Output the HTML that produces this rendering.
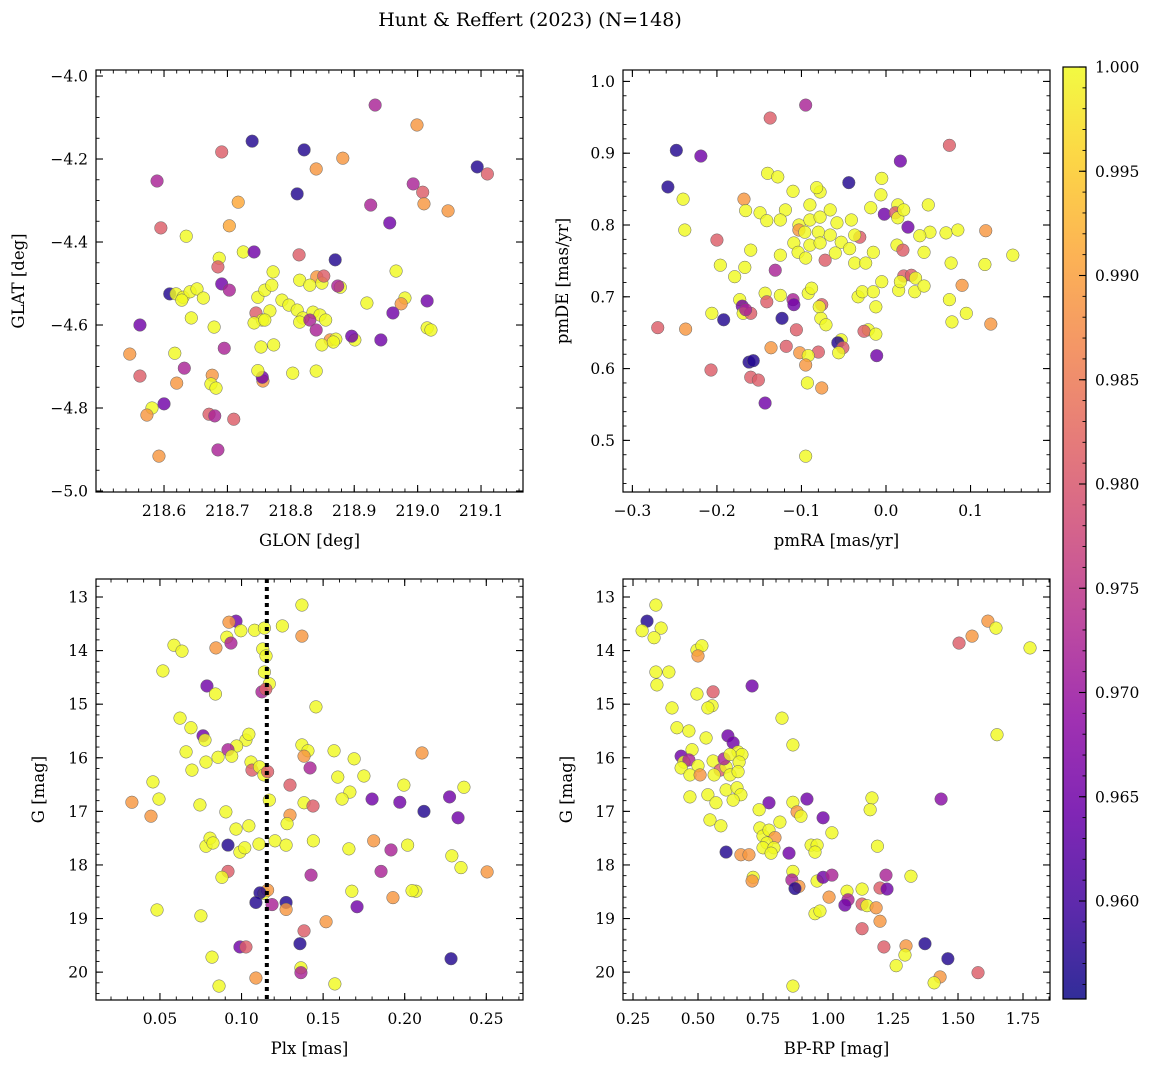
<!DOCTYPE html>
<html><head><meta charset="utf-8">
<style>
html,body{margin:0;padding:0;background:#fff;}
svg{display:block;font-family:"DejaVu Serif","Liberation Serif",serif;}
</style></head>
<body>
<svg id="fig" width="1161" height="1067" viewBox="0 0 1161 1067" xmlns="http://www.w3.org/2000/svg">
<text x="530" y="26" font-size="19" text-anchor="middle">Hunt &amp; Reffert (2023) (N=148)</text>
</svg>
<script>
// Values: [x, y, color-value]
const skyPoints = [
[218.933,-4.070,0.972],[218.999,-4.118,0.989],[218.739,-4.157,0.957],[218.821,-4.178,0.957],[218.691,-4.183,0.981],
[218.882,-4.198,0.989],[219.094,-4.219,0.957],[218.840,-4.224,0.989],[219.110,-4.236,0.981],[218.589,-4.253,0.972],
[218.993,-4.260,0.972],[219.008,-4.280,0.981],[218.810,-4.284,0.957],[218.717,-4.304,0.991],[219.010,-4.308,0.989],
[218.926,-4.311,0.972],[219.048,-4.325,0.989],[218.956,-4.354,0.965],[218.595,-4.366,0.981],[218.703,-4.361,0.991],
[218.635,-4.386,1.0],[218.725,-4.424,1.0],[218.742,-4.424,0.965],[218.813,-4.431,0.981],[218.687,-4.439,1.0],
[218.870,-4.443,0.957],[218.685,-4.460,0.981],[218.772,-4.472,1.0],[218.966,-4.470,1.0],[218.841,-4.484,0.989],
[218.609,-4.525,0.957],[218.619,-4.525,1.0],[218.630,-4.533,1.0],[218.641,-4.520,1.0],[218.652,-4.513,1.0],
[218.662,-4.535,1.0],[218.628,-4.540,1.0],[218.691,-4.501,0.965],[218.703,-4.516,0.972],[218.814,-4.492,1.0],
[218.830,-4.504,1.0],[218.849,-4.499,1.0],[218.852,-4.482,0.981],[218.878,-4.509,1.0],[218.874,-4.506,0.972],
[218.748,-4.533,1.0],[218.759,-4.516,1.0],[218.770,-4.504,1.0],[218.786,-4.540,1.0],[218.767,-4.566,1.0],
[218.745,-4.571,0.981],[218.755,-4.588,1.0],[218.742,-4.595,1.0],[218.759,-4.588,1.0],[218.797,-4.552,1.0],
[218.810,-4.564,1.0],[218.819,-4.583,1.0],[218.835,-4.569,1.0],[218.846,-4.576,1.0],[218.814,-4.593,1.0],
[218.830,-4.588,0.972],[218.855,-4.588,1.0],[218.840,-4.612,0.972],[218.862,-4.636,0.989],[218.871,-4.634,1.0],
[218.849,-4.648,1.0],[218.867,-4.641,1.0],[218.901,-4.636,1.0],[218.896,-4.627,0.965],[218.920,-4.547,1.0],
[218.980,-4.535,1.0],[218.974,-4.549,0.989],[218.961,-4.571,0.965],[219.015,-4.607,1.0],[219.021,-4.612,1.0],
[219.015,-4.542,0.965],[218.942,-4.636,0.965],[218.643,-4.583,1.0],[218.679,-4.605,1.0],[218.753,-4.653,1.0],
[218.773,-4.648,1.0],[218.803,-4.716,1.0],[218.840,-4.711,1.0],[218.695,-4.656,0.972],[218.562,-4.600,0.965],
[218.546,-4.670,0.989],[218.562,-4.723,0.981],[218.617,-4.668,1.0],[218.632,-4.704,0.972],[218.620,-4.740,0.989],
[218.676,-4.721,0.989],[218.674,-4.742,1.0],[218.682,-4.752,1.0],[218.756,-4.735,0.989],[218.755,-4.726,0.965],
[218.748,-4.710,1.0],[218.581,-4.800,1.0],[218.573,-4.817,0.989],[218.600,-4.790,0.965],[218.671,-4.815,0.981],
[218.680,-4.819,0.972],[218.710,-4.827,0.981],[218.685,-4.901,0.972],[218.592,-4.916,0.989]
];
const pmPoints = [
[-0.095,0.967,0.972],[-0.137,0.949,0.981],[-0.248,0.904,0.957],[-0.219,0.896,0.965],[0.075,0.911,0.981],
[-0.258,0.853,0.957],[0.017,0.889,0.965],[-0.140,0.872,1.0],[-0.128,0.867,1.0],[-0.005,0.865,1.0],
[-0.044,0.859,0.957],[-0.240,0.836,1.0],[-0.110,0.847,1.0],[-0.078,0.846,1.0],[-0.082,0.852,1.0],
[-0.006,0.842,1.0],[-0.018,0.824,1.0],[-0.168,0.836,0.989],[-0.166,0.820,1.0],[-0.149,0.817,1.0],
[-0.119,0.821,1.0],[-0.090,0.828,1.0],[-0.066,0.821,1.0],[0.014,0.828,1.0],[0.050,0.828,1.0],
[-0.002,0.815,0.965],[0.011,0.817,0.981],[0.014,0.810,1.0],[0.021,0.821,1.0],[-0.238,0.793,1.0],
[-0.141,0.806,1.0],[-0.125,0.807,1.0],[-0.103,0.800,1.0],[-0.090,0.807,1.0],[-0.078,0.811,1.0],
[-0.058,0.803,1.0],[-0.041,0.807,1.0],[0.026,0.797,0.965],[0.071,0.789,1.0],[0.052,0.790,1.0],
[-0.200,0.779,0.981],[-0.103,0.793,0.989],[-0.096,0.790,1.0],[-0.080,0.790,1.0],[-0.066,0.786,1.0],
[-0.109,0.775,1.0],[-0.090,0.772,1.0],[-0.078,0.775,1.0],[-0.031,0.783,0.981],[-0.037,0.786,1.0],
[-0.053,0.776,1.0],[-0.043,0.767,1.0],[-0.015,0.762,1.0],[0.013,0.772,1.0],[0.040,0.785,1.0],
[0.085,0.793,1.0],[0.118,0.792,0.989],[-0.160,0.765,1.0],[-0.125,0.758,1.0],[-0.104,0.762,1.0],
[-0.095,0.754,1.0],[-0.072,0.751,0.981],[-0.060,0.761,1.0],[-0.037,0.747,1.0],[-0.024,0.747,1.0],
[0.020,0.765,0.981],[0.045,0.762,1.0],[-0.131,0.737,0.972],[-0.167,0.741,1.0],[-0.196,0.744,1.0],
[-0.179,0.728,1.0],[0.077,0.747,1.0],[0.117,0.745,1.0],[0.150,0.758,1.0],[0.015,0.709,1.0],
[0.021,0.729,0.981],[0.030,0.730,0.981],[0.035,0.726,1.0],[0.017,0.721,1.0],[-0.005,0.721,1.0],
[0.034,0.707,1.0],[-0.143,0.705,1.0],[-0.125,0.702,1.0],[-0.141,0.693,0.981],[-0.173,0.696,1.0],
[-0.170,0.687,0.965],[-0.092,0.705,1.0],[-0.088,0.712,1.0],[-0.076,0.689,0.981],[-0.033,0.700,1.0],
[-0.028,0.707,1.0],[-0.015,0.707,1.0],[0.045,0.715,1.0],[0.090,0.716,0.989],[0.075,0.696,1.0],
[0.095,0.677,1.0],[0.078,0.665,1.0],[0.124,0.662,0.989],[-0.206,0.677,1.0],[-0.169,0.677,1.0],
[-0.110,0.696,0.972],[-0.109,0.689,0.965],[-0.079,0.686,1.0],[-0.012,0.686,1.0],[-0.160,0.677,0.981],
[-0.192,0.668,0.957],[-0.166,0.682,0.972],[-0.123,0.670,0.957],[-0.077,0.670,1.0],[-0.071,0.661,1.0],
[-0.053,0.640,1.0],[-0.021,0.654,1.0],[-0.026,0.652,0.981],[-0.012,0.648,1.0],[-0.118,0.631,0.981],
[-0.102,0.622,0.989],[-0.106,0.654,0.981],[-0.057,0.636,0.957],[-0.051,0.629,0.981],[-0.080,0.623,0.981],
[-0.136,0.629,0.989],[-0.092,0.618,1.0],[-0.056,0.622,1.0],[-0.011,0.618,0.965],[-0.207,0.598,0.981],
[-0.162,0.609,0.957],[-0.157,0.611,0.957],[-0.160,0.588,0.981],[-0.151,0.584,0.981],[-0.095,0.605,0.989],
[-0.093,0.580,1.0],[-0.076,0.573,0.989],[-0.143,0.552,0.965],[-0.237,0.655,0.989],[-0.270,0.657,0.981],
[-0.095,0.478,1.0]
];
const plxPoints = [
[0.0966,13.45,0.965],[0.0923,13.47,0.989],[0.137,13.15,1.0],[0.0996,13.63,1.0],[0.108,13.62,1.0],
[0.125,13.54,1.0],[0.114,13.58,1.0],[0.091,13.75,1.0],[0.0935,13.86,0.972],[0.137,13.73,0.989],
[0.0586,13.90,1.0],[0.0635,14.01,1.0],[0.0843,13.95,0.989],[0.113,13.97,1.0],[0.115,14.10,1.0],
[0.114,14.40,1.0],[0.117,14.62,1.0],[0.0518,14.38,1.0],[0.0788,14.66,0.965],[0.084,14.81,1.0],
[0.1125,14.77,0.972],[0.1149,14.72,0.981],[0.0623,15.26,1.0],[0.069,15.44,1.0],[0.0764,15.59,0.965],
[0.0776,15.67,1.0],[0.1456,15.05,1.0],[0.1027,15.67,1.0],[0.1045,15.56,1.0],[0.097,15.78,1.0],
[0.0917,15.85,0.972],[0.094,15.97,1.0],[0.137,15.76,1.0],[0.1407,15.87,1.0],[0.1383,15.97,0.989],
[0.1567,15.87,1.0],[0.169,16.02,1.0],[0.2106,15.91,0.989],[0.066,15.89,1.0],[0.0696,16.23,1.0],
[0.0782,16.08,1.0],[0.0856,15.99,1.0],[0.1058,16.08,1.0],[0.1064,16.23,0.981],[0.111,16.17,1.0],
[0.1137,16.32,1.0],[0.116,16.26,0.981],[0.0457,16.45,1.0],[0.1297,16.51,0.981],[0.142,16.19,0.972],
[0.159,16.36,1.0],[0.175,16.34,1.0],[0.1995,16.51,1.0],[0.2363,16.55,1.0],[0.1664,16.64,1.0],
[0.1616,16.77,1.0],[0.0328,16.83,0.989],[0.0494,16.77,1.0],[0.0745,16.88,1.0],[0.1383,16.84,1.0],
[0.1438,16.90,0.981],[0.117,16.79,1.0],[0.18,16.77,0.965],[0.197,16.83,0.965],[0.2275,16.73,0.965],
[0.0445,17.09,0.989],[0.0904,17.01,1.0],[0.2118,17.00,0.957],[0.2327,17.12,0.965],[0.1297,17.07,0.989],
[0.1279,17.23,1.0],[0.0966,17.33,1.0],[0.1045,17.27,1.0],[0.0782,17.65,1.0],[0.0807,17.50,1.0],
[0.0825,17.59,1.0],[0.0917,17.63,0.957],[0.099,17.76,1.0],[0.102,17.68,1.0],[0.1107,17.61,1.0],
[0.1205,17.55,1.0],[0.1273,17.63,1.0],[0.144,17.55,1.0],[0.1658,17.70,1.0],[0.181,17.55,0.989],
[0.1916,17.72,0.972],[0.2018,17.63,1.0],[0.0917,18.12,0.981],[0.088,18.23,1.0],[0.1426,18.19,0.972],
[0.1137,18.53,1.0],[0.116,18.47,0.989],[0.1113,18.52,0.957],[0.1088,18.70,0.957],[0.1273,18.70,0.957],
[0.1676,18.49,1.0],[0.1855,18.12,0.972],[0.2069,18.49,1.0],[0.2289,17.83,1.0],[0.2345,18.05,1.0],
[0.2505,18.13,0.989],[0.1187,18.74,0.972],[0.1273,18.83,0.989],[0.1518,19.06,0.989],[0.1708,18.78,0.965],
[0.1928,18.61,0.989],[0.2045,18.48,1.0],[0.0482,18.84,1.0],[0.0751,18.95,1.0],[0.1383,19.23,0.981],
[0.1358,19.47,0.957],[0.099,19.53,0.965],[0.1027,19.53,0.981],[0.0819,19.72,1.0],[0.2284,19.75,0.957],
[0.1364,19.92,1.0],[0.1364,20.01,0.972],[0.1088,20.11,0.989],[0.1572,20.22,1.0],[0.0862,20.26,1.0]
];
const cmdPoints = [
[0.304,13.45,0.957],[0.285,13.63,1.0],[0.338,13.15,1.0],[0.358,13.58,1.0],[0.331,13.76,1.0],
[0.338,14.40,1.0],[0.342,14.64,1.0],[0.388,14.40,1.0],[0.496,13.99,1.0],[0.515,13.91,1.0],
[0.500,14.10,0.989],[0.400,15.07,1.0],[0.558,14.77,0.981],[0.554,15.03,1.0],[0.538,15.07,1.0],
[0.496,14.81,1.0],[0.708,14.66,0.965],[0.419,15.44,1.0],[0.465,15.50,1.0],[0.531,15.63,1.0],
[0.615,15.59,0.965],[0.635,15.72,0.965],[0.823,15.26,1.0],[0.865,15.76,1.0],[1.650,15.57,1.0],
[0.435,15.97,0.965],[0.446,16.08,1.0],[0.477,15.85,1.0],[0.465,16.04,0.972],[0.500,16.15,1.0],
[0.558,16.06,1.0],[0.585,16.23,0.981],[0.608,16.17,1.0],[0.654,15.89,1.0],[0.669,15.94,1.0],
[0.600,16.02,0.972],[0.623,15.94,1.0],[0.435,16.19,1.0],[0.469,16.32,1.0],[0.508,16.32,0.989],
[0.562,16.32,1.0],[0.623,16.32,1.0],[0.658,16.08,1.0],[0.654,16.26,1.0],[0.469,16.73,1.0],
[0.538,16.69,1.0],[0.608,16.60,1.0],[0.650,16.56,1.0],[0.665,16.69,1.0],[0.635,16.79,1.0],
[0.569,16.84,1.0],[0.546,17.16,1.0],[0.588,17.27,1.0],[0.773,16.84,0.965],[0.919,16.77,0.965],
[0.865,16.83,1.0],[0.881,17.01,0.989],[0.896,17.09,1.0],[0.981,17.12,0.965],[1.015,17.40,1.0],
[1.169,16.75,1.0],[1.435,16.77,0.968],[1.162,16.97,1.0],[0.735,16.97,1.0],[0.738,17.31,1.0],
[0.750,17.46,1.0],[0.773,17.35,1.0],[0.796,17.49,0.989],[0.765,17.59,1.0],[0.750,17.68,1.0],
[0.792,17.68,1.0],[0.781,17.78,1.0],[0.665,17.81,0.989],[0.696,17.81,0.989],[0.608,17.76,0.957],
[0.850,17.78,0.965],[0.815,17.20,1.0],[0.935,17.63,1.0],[0.958,17.63,1.0],[0.950,17.76,1.0],
[1.190,17.65,1.0],[0.865,18.12,1.0],[0.861,18.28,0.972],[0.888,18.40,0.989],[0.958,18.30,1.0],
[0.981,18.23,0.965],[1.015,18.19,0.972],[0.873,18.44,0.957],[0.712,18.23,1.0],[0.708,18.30,0.989],
[1.223,18.19,0.972],[1.131,18.45,1.0],[1.073,18.49,1.0],[1.200,18.43,0.981],[1.227,18.45,0.965],
[1.319,18.21,1.0],[1.077,18.65,0.972],[1.065,18.75,0.965],[1.004,18.60,0.989],[1.131,18.73,0.981],
[1.150,18.76,1.0],[1.185,18.80,0.989],[0.950,18.91,1.0],[0.969,18.86,1.0],[1.200,19.05,0.989],
[1.131,19.19,0.981],[1.215,19.53,0.981],[1.300,19.51,0.989],[1.373,19.47,0.957],[1.461,19.75,0.957],
[1.296,19.68,1.0],[1.262,19.88,1.0],[1.431,20.09,0.989],[1.408,20.20,1.0],[1.577,20.01,0.981],
[0.865,20.26,1.0],[1.504,13.86,0.981],[1.554,13.73,0.989],[1.615,13.45,0.989],[1.646,13.58,1.0],
[1.777,13.95,1.0]
];
const skyXTicks = [218.6,218.7,218.8,218.9,219.0,219.1];
const skyYTicks = [-4.0,-4.2,-4.4,-4.6,-4.8,-5.0];
const pmXTicks = [-0.3,-0.2,-0.1,0.0,0.1];
const pmYTicks = [0.5,0.6,0.7,0.8,0.9,1.0];
const plxXTicks = [0.05,0.10,0.15,0.20,0.25];
const magTicks = [13,14,15,16,17,18,19,20];
const cmdXTicks = [0.25,0.50,0.75,1.00,1.25,1.50,1.75];
const cbarTicks = [0.960,0.965,0.970,0.975,0.980,0.985,0.990,0.995,1.000];
const plxCut = [0.1155];
const cRange = [0.9553, 1.0];

const NS='http://www.w3.org/2000/svg';
const svg=document.getElementById('fig');
function mk(tag,attrs,parent){const e=document.createElementNS(NS,tag);for(const k in attrs)e.setAttribute(k,attrs[k]);(parent||svg).appendChild(e);return e;}
const plasma=[[13,8,135],[65,4,157],[106,0,168],[143,13,164],[177,42,144],[204,71,120],[225,100,98],[242,132,75],[252,166,54],[252,206,37],[240,249,33]];
function cmap(v){let t=(v-cRange[0])/(cRange[1]-cRange[0]);t=Math.max(0,Math.min(1,t));const f=t*10,i=Math.min(9,Math.floor(f)),r=f-i;const a=plasma[i],b=plasma[i+1];return 'rgb('+a.map((c,k)=>Math.round(c+(b[k]-c)*r)).join(',')+')';}
function scale(d0,d1,p0,p1){return v=>p0+(v-d0)/(d1-d0)*(p1-p0);}
function fmt(v,dec){return v.toFixed(dec).replace('-','\u2212');}

function panel(o){
  const g=mk('g',{});
  
  
  const sx=scale(o.xd[0],o.xd[1],o.l,o.r), sy=scale(o.yd[0],o.yd[1],o.t,o.b);
  const pts=mk('g',{},g);
  
  
  o.data.forEach(p=>{
    const c=mk('circle',{cx:sx(p[0]),cy:sy(p[1]),r:6.3,fill:cmap(p[2]),'fill-opacity':0.82,stroke:'#666','stroke-width':0.5},pts);
    
    
  });
  if(o.extra)o.extra(g,sx,sy);
  const fr=mk('rect',{x:o.l,y:o.t,width:o.r-o.l,height:o.b-o.t,fill:'none',stroke:'#000','stroke-width':1.2},g);
  
  
  // minor ticks
  const lo=Math.min(o.xd[0],o.xd[1]),hi=Math.max(o.xd[0],o.xd[1]);
  for(let v=Math.ceil(lo/o.xm-1e-6)*o.xm;v<=hi+1e-9;v+=o.xm){const x=sx(v);
    mk('line',{x1:x,x2:x,y1:o.b,y2:o.b-3.5,stroke:'#000','stroke-width':0.9},g);
    mk('line',{x1:x,x2:x,y1:o.t,y2:o.t+3.5,stroke:'#000','stroke-width':0.9},g);}
  const ylo=Math.min(o.yd[0],o.yd[1]),yhi=Math.max(o.yd[0],o.yd[1]);
  for(let v=Math.ceil(ylo/o.ym-1e-6)*o.ym;v<=yhi+1e-9;v+=o.ym){const y=sy(v);
    mk('line',{x1:o.l,x2:o.l+3.5,y1:y,y2:y,stroke:'#000','stroke-width':0.9},g);
    mk('line',{x1:o.r,x2:o.r-3.5,y1:y,y2:y,stroke:'#000','stroke-width':0.9},g);}
  o.xt.forEach(v=>{const x=sx(v);
    mk('line',{x1:x,x2:x,y1:o.b,y2:o.b-7,stroke:'#000','stroke-width':1.1},g);
    mk('line',{x1:x,x2:x,y1:o.t,y2:o.t+7,stroke:'#000','stroke-width':1.1},g);
    const t=mk('text',{x:x,y:o.b+24,'font-size':15.5,'text-anchor':'middle'},g);t.textContent=fmt(v,o.xdec);
    
    });
  o.yt.forEach(v=>{const y=sy(v);
    mk('line',{x1:o.l,x2:o.l+7,y1:y,y2:y,stroke:'#000','stroke-width':1.1},g);
    mk('line',{x1:o.r,x2:o.r-7,y1:y,y2:y,stroke:'#000','stroke-width':1.1},g);
    const t=mk('text',{x:o.l-8,y:y+5.5,'font-size':15.5,'text-anchor':'end'},g);t.textContent=fmt(v,o.ydec);
    
    });
  const xl=mk('text',{x:(o.l+o.r)/2,y:o.b+54,'font-size':16.5,'text-anchor':'middle'},g);xl.textContent=o.xlab;
  
  
  const yx=o.ylx, yy=(o.t+o.b)/2;
  const yl=mk('text',{x:yx,y:yy,'font-size':16.5,'text-anchor':'middle',transform:'rotate(-90 '+yx+' '+yy+')'},g);yl.textContent=o.ylab;
  
  
}

panel({name:'sky-panel',l:96,r:523,t:70,b:492,xd:[218.4927,219.1662],yd:[-3.9855,-5.0024],data:skyPoints,xt:skyXTicks,yt:skyYTicks,xm:0.02,ym:0.05,xdec:1,ydec:1,xlab:'GLON [deg]',ylab:'GLAT [deg]',ylx:24});
panel({name:'pm-panel',l:623,r:1050,t:70,b:492,xd:[-0.3111,0.1940],yd:[1.0159,0.4281],data:pmPoints,xt:pmXTicks,yt:pmYTicks,xm:0.02,ym:0.02,xdec:1,ydec:1,xlab:'pmRA [mas/yr]',ylab:'pmDE [mas/yr]',ylx:568});
panel({name:'plx-panel',l:96,r:523,t:579,b:1000,xd:[0.0108,0.2725],yd:[12.664,20.520],data:plxPoints,xt:plxXTicks,yt:magTicks,xm:0.01,ym:0.2,xdec:2,ydec:0,xlab:'Plx [mas]',ylab:'G [mag]',ylx:44,
  extra:(g,sx,sy)=>{plxCut.forEach(v=>{const l=mk('line',{x1:sx(v),x2:sx(v),y1:579,y2:1000,stroke:'#000','stroke-width':4,'stroke-dasharray':'4,4'},g);
    
    });}});
panel({name:'cmd-panel',l:623,r:1050,t:579,b:1000,xd:[0.2115,1.8538],yd:[12.664,20.520],data:cmdPoints,xt:cmdXTicks,yt:magTicks,xm:0.05,ym:0.2,xdec:2,ydec:0,xlab:'BP-RP [mag]',ylab:'G [mag]',ylx:572});

// colorbar
(function(){
  const l=1063,r=1086,t=67,b=999;
  const g=mk('g',{});
  
  
  const defs=mk('defs',{},g);
  const lg=mk('linearGradient',{id:'cb',x1:0,y1:1,x2:0,y2:0},defs);
  plasma.forEach((c,i)=>mk('stop',{offset:(i/10),'stop-color':'rgb('+c.join(',')+')','stop-opacity':0.85},lg));
  mk('rect',{x:l,y:t,width:r-l,height:b-t,fill:'url(#cb)',stroke:'#000','stroke-width':1.2},g);
  const sy=scale(cRange[0],cRange[1],b,t);
  for(let v=0.956;v<=1.0001;v+=0.001){const y=sy(v);mk('line',{x1:r,x2:r-3.5,y1:y,y2:y,stroke:'#000','stroke-width':0.9},g);}
  cbarTicks.forEach(v=>{const y=sy(v);
    mk('line',{x1:r,x2:r-7,y1:y,y2:y,stroke:'#000','stroke-width':1.1},g);
    const tx=mk('text',{x:r+9,y:y+5.5,'font-size':15.5},g);tx.textContent=v.toFixed(3);
    
    });
})();
</script>
</body></html>
